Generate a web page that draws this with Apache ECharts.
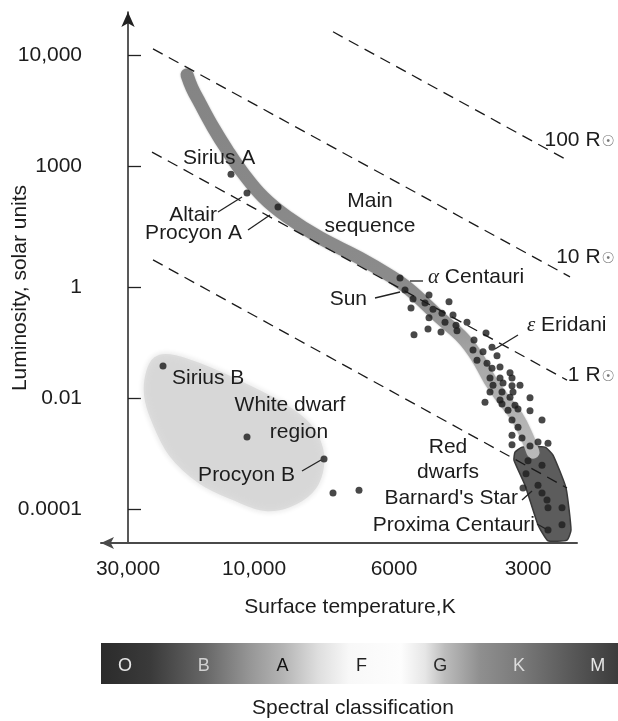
<!DOCTYPE html>
<html>
<head>
<meta charset="utf-8">
<script src="https://cdn.jsdelivr.net/npm/echarts@6/dist/echarts.min.js"></script>
<style>
html,body{margin:0;padding:0;background:#fff;}
#c{width:618px;height:721px;}
</style>
</head>
<body>
<div id="c"></div>
<script>
// ---- Axis ticks (x: position along the temperature axis, y: log10 luminosity position) ----
const xTickValues = [0, 126, 266, 400];
const xTickLabels = ['30,000', '10,000', '6000', '3000'];
const yTickValues = [4, 2.04, -0.09, -2.04, -4];
const yTickLabels = ['10,000', '1000', '1', '0.01', '0.0001'];

// ---- Main sequence band ----
const mainSequence = [[59,3.65],[64,3.42],[72,3.15],[85,2.73],[99,2.33],[115,1.92],[135,1.50],[159,1.15],
  [192,0.78],[232,0.42],[262,0.11],[282,-0.14],[312,-0.63],[335,-0.99],[349,-1.32],[362,-1.73],
  [372,-1.99],[389,-2.38],[399,-2.73],[405,-3.00]];

// ---- Regions ----
const whiteDwarfRegion = [[19,-1.59],[27,-1.34],[42,-1.29],[72,-1.45],[117,-1.80],[157,-2.17],[182,-2.52],
  [194,-2.93],[194,-3.35],[184,-3.70],[162,-3.95],[137,-4.02],[107,-3.84],[72,-3.54],[42,-3.05],[24,-2.43],[17,-1.99]];
const redDwarfRegion = [[387,-3.00],[394,-2.91],[417,-2.91],[425,-3.05],[438,-3.63],[443,-4.37],[439,-4.55],
  [420,-4.56],[410,-4.28],[397,-3.58],[386,-3.14]];

// ---- Constant-radius lines ----
const radius100 = [[205,4.41],[439,2.15]];
const radius10 = [[25,4.11],[442,0.09]];
const radius1 = [[24,2.29],[439,-1.73]];
const radius01 = [[25,0.39],[439,-3.63]];

// ---- Stars ----
const namedStars = [[103,1.90],[119,1.57],[150,1.32],[272,0.07],[277,-0.14],[364,-1.15],[35,-1.48],[196,-3.12]];
const otherStars = [[119,-2.73],[205,-3.72],[231,-3.67],
  [285,-0.30],[283,-0.46],[301,-0.23],[321,-0.35],[297,-0.37],[305,-0.48],[301,-0.63],[314,-0.55],[325,-0.58],
  [317,-0.71],[328,-0.76],[329,-0.86],[339,-0.71],[286,-0.93],[300,-0.83],[313,-0.88],[358,-0.90],[346,-1.02],
  [345,-1.20],[355,-1.23],[349,-1.38],[359,-1.43],[369,-1.30],[364,-1.52],[372,-1.50],[382,-1.60],[384,-1.69],
  [362,-1.69],[372,-1.69],[365,-1.82],[375,-1.78],[384,-1.83],[392,-1.82],[362,-1.94],[374,-1.94],[385,-1.94],
  [382,-2.03],[372,-2.08],[357,-2.12],[374,-2.15],[387,-2.17],[390,-2.24],[402,-2.04],[402,-2.27],[380,-2.26],
  [384,-2.43],[390,-2.56],[414,-2.43],[384,-2.70],[394,-2.75],[384,-2.87],[410,-2.82],[420,-2.84],[402,-2.89]];
const redDwarfStars = [[400,-3.15],[414,-3.23],[398,-3.38],[410,-3.58],[395,-3.63],[414,-3.72],[419,-3.84],
  [420,-3.98],[434,-3.98],[434,-4.28],[420,-4.37]];

// ---- Spectral classes ----
const spectralClasses = ['O','B','A','F','G','K','M'];
const spectralLetterColors = ['#e6e6e6','#d0d0d0','#111','#222','#2a2a2a','#dcdcdc','#e6e6e6'];

const FONT = '"Liberation Sans", Arial, Helvetica, sans-serif';
const TXT = '#1c1c1c';

function regionSeries(points, z, style) {
  return {
    type: 'custom', coordinateSystem: 'cartesian2d', silent: true, z: z,
    data: [[points[0][0], points[0][1]]],
    renderItem: function (params, api) {
      return {
        type: 'polygon',
        shape: { points: points.map(function (p) { return api.coord(p); }), smooth: style.smooth },
        style: { fill: style.fill, stroke: style.stroke, lineWidth: style.lineWidth,
                 shadowBlur: style.shadowBlur || 0, shadowColor: style.shadowColor || 'transparent' }
      };
    }
  };
}
function dashed(data) {
  return { type: 'line', data: data, z: 4, silent: true, showSymbol: false, symbol: 'none',
    lineStyle: { type: [11, 7], width: 1.3, color: '#1a1a1a' } };
}
function txt(x, y, text, align, extra, rotation) {
  return { type: 'text', x: x, y: y, z: 100, rotation: rotation || 0,
    style: Object.assign({ text: text, fontSize: 21, fontFamily: FONT, fill: TXT,
      textAlign: align, textVerticalAlign: 'middle' }, extra || {}) };
}
function leader(x1, y1, x2, y2) {
  return { type: 'line', z: 100, shape: { x1: x1, y1: y1, x2: x2, y2: y2 },
    style: { stroke: '#222', lineWidth: 1.3 } };
}
const sunRich = { s: { fontSize: 15, fontFamily: '"DejaVu Sans", sans-serif', fill: '#777',
  verticalAlign: 'bottom', textVerticalAlign: 'bottom', padding: [0, 0, 1, 1] } };
const greekRich = { g: { fontSize: 21, fontFamily: '"Liberation Serif", "DejaVu Serif", serif', fontStyle: 'italic', fill: TXT } };

function labelFor(values, labels) {
  return function (v) {
    for (let i = 0; i < values.length; i++) if (Math.abs(values[i] - v) < 1e-6) return labels[i];
    return '';
  };
}

const chart = echarts.init(document.getElementById('c'), null, { renderer: 'canvas' });

const barX = 101, barW = 517;
const graphicEls = [
  // axis titles
  txt(20, 288, 'Luminosity, solar units', 'center', {}, Math.PI / 2),
  txt(350, 607, 'Surface temperature,K', 'center', {}),
  txt(353, 708, 'Spectral classification', 'center', {}),
  // spectral bar
  { type: 'rect', z: 50, shape: { x: barX, y: 643, width: barW, height: 41 },
    style: { fill: new echarts.graphic.LinearGradient(0, 0, 1, 0, [
      { offset: 0, color: '#2b2b2b' }, { offset: 0.095, color: '#3a3a3a' }, { offset: 0.2, color: '#666' },
      { offset: 0.29, color: '#979797' }, { offset: 0.354, color: '#b5b5b5' }, { offset: 0.42, color: '#dedede' },
      { offset: 0.48, color: '#f8f8f8' }, { offset: 0.58, color: '#fdfdfd' }, { offset: 0.627, color: '#e6e6e6' },
      { offset: 0.665, color: '#bcbcbc' }, { offset: 0.733, color: '#8f8f8f' }, { offset: 0.81, color: '#7a7a7a' },
      { offset: 0.905, color: '#5a5a5a' }, { offset: 1, color: '#3c3c3c' } ]) } },
  // annotations
  txt(183, 158, 'Sirius A', 'left'),
  txt(217, 215, 'Altair', 'right'),
  leader(218, 212, 242, 197),
  txt(242, 233, 'Procyon A', 'right'),
  leader(248, 230, 270, 215),
  txt(370, 214, 'Main\nsequence', 'center', { lineHeight: 25 }),
  txt(428, 277, '{g|α} Centauri', 'left', { rich: greekRich }),
  leader(410, 281, 423, 281),
  txt(367, 299, 'Sun', 'right'),
  leader(375, 298, 400, 292),
  txt(527, 325, '{g|ε} Eridani', 'left', { rich: greekRich }),
  leader(518, 335, 495, 349),
  txt(615, 140, '100 R{s|☉}', 'right', { rich: sunRich }),
  txt(615, 257, '10 R{s|☉}', 'right', { rich: sunRich }),
  txt(615, 375, '1 R{s|☉}', 'right', { rich: sunRich }),
  txt(172, 378, 'Sirius B', 'left'),
  txt(290, 405, 'White dwarf', 'center'),
  txt(299, 432, 'region', 'center'),
  txt(295, 475, 'Procyon B', 'right'),
  leader(302, 471, 321, 460),
  txt(448, 460, 'Red\ndwarfs', 'center', { lineHeight: 25 }),
  txt(518, 498, "Barnard's Star", 'right'),
  leader(522, 500, 532, 491),
  txt(535, 525, 'Proxima Centauri', 'right'),
  leader(537, 524, 546, 529)
];
spectralClasses.forEach(function (c, i) {
  graphicEls.push({ type: 'text', x: 125 + i * 78.8, y: 666, z: 60,
    style: { text: c, fontSize: 18, fontFamily: FONT, fill: spectralLetterColors[i],
      textAlign: 'center', textVerticalAlign: 'middle' } });
});

const option = {
  animation: false,
  backgroundColor: '#ffffff',
  grid: { left: 101, right: 41, top: 12, bottom: 178, containLabel: false, outerBoundsMode: 'none' },
  xAxis: {
    type: 'value', min: -27, max: 449,
    axisLine: { show: true, onZero: false, symbol: ['arrow', 'none'], symbolSize: [9, 13],
      lineStyle: { color: '#4a4a4a', width: 2 } },
    axisTick: { show: false },
    splitLine: { show: false },
    axisLabel: { customValues: xTickValues, formatter: labelFor(xTickValues, xTickLabels),
      fontSize: 21, fontFamily: FONT, color: TXT, margin: 16 }
  },
  yAxis: {
    type: 'value', min: -4.6, max: 4.759,
    axisLine: { show: true, onZero: true, symbol: ['none', 'arrow'], symbolSize: [10, 15],
      lineStyle: { color: '#222', width: 1.5 } },
    axisTick: { show: true, inside: true, length: 13, customValues: yTickValues,
      lineStyle: { color: '#222', width: 1.3 } },
    splitLine: { show: false },
    axisLabel: { customValues: yTickValues, formatter: labelFor(yTickValues, yTickLabels),
      fontSize: 21, fontFamily: FONT, color: TXT, margin: 19 }
  },
  series: [
    regionSeries(whiteDwarfRegion, 1, { fill: '#d7d7d7', stroke: '#dcdcdc', lineWidth: 2, smooth: 0.35,
      shadowBlur: 6, shadowColor: '#e2e2e2' }),
    regionSeries(redDwarfRegion, 2, { fill: '#5c5c5c', stroke: '#3a3a3a', lineWidth: 1.5, smooth: 0.15 }),
    { type: 'line', data: mainSequence, z: 3, silent: true, smooth: 0.4, showSymbol: false, symbol: 'none',
      lineStyle: { width: 13, cap: 'round', join: 'round',
        color: new echarts.graphic.LinearGradient(0, 0, 0, 1, [
          { offset: 0, color: '#848484' }, { offset: 0.6, color: '#8c8c8c' },
          { offset: 0.75, color: '#a8a8a8' }, { offset: 1, color: '#bababa' } ]),
        shadowBlur: 2, shadowColor: 'rgba(120,120,120,0.5)' } },
    dashed(radius100), dashed(radius10), dashed(radius1), dashed(radius01),
    { type: 'scatter', data: namedStars, z: 5, silent: true, symbolSize: 7, itemStyle: { color: '#1a1a1a' } },
    { type: 'scatter', data: otherStars, z: 5, silent: true, symbolSize: 7, itemStyle: { color: '#1a1a1a' } },
    { type: 'scatter', data: redDwarfStars, z: 5, silent: true, symbolSize: 7, itemStyle: { color: '#1e1e1e' } }
  ],
  graphic: { elements: graphicEls }
};
chart.setOption(option);
</script>
</body>
</html>
